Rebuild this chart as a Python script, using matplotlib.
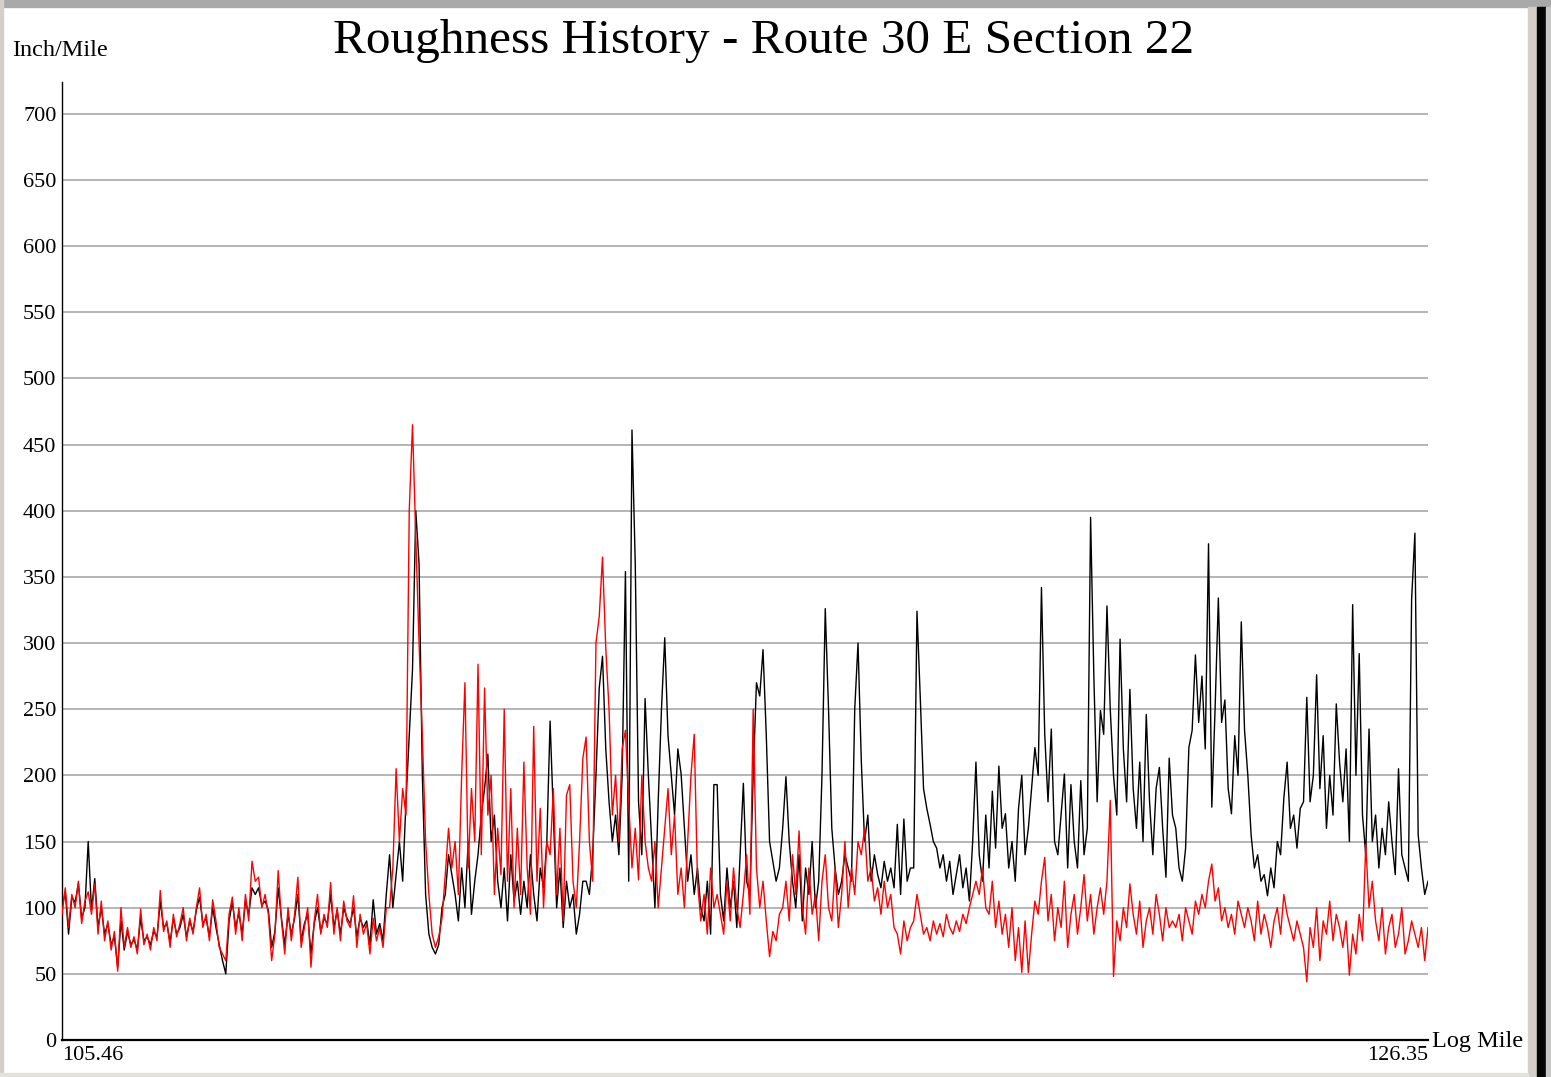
import numpy as np
import matplotlib
matplotlib.use("Agg")
import matplotlib.pyplot as plt
from matplotlib.patches import Rectangle

plt.rcParams["font.family"] = ["Liberation Serif", "DejaVu Serif"]

# log mile range of the section
start_mile = 105.46
end_mile = 126.35

# roughness readings (inch/mile), one value every ~0.05 mile
black_run = [
    100, 112, 80, 108, 104, 118, 92, 100, 150, 98, 122, 85, 100, 80, 88, 72, 78, 55, 90, 68,
    82, 72, 76, 68, 92, 75, 78, 72, 82, 78, 105, 85, 88, 74, 92, 80, 85, 95, 78, 90,
    82, 98, 108, 88, 92, 78, 100, 85, 72, 60, 50, 90, 104, 85, 96, 80, 105, 95, 115, 110,
    115, 102, 105, 98, 70, 82, 115, 92, 72, 95, 80, 92, 110, 75, 88, 95, 65, 88, 100, 82,
    92, 88, 110, 85, 98, 80, 100, 92, 88, 100, 78, 92, 85, 90, 72, 106, 80, 88, 75, 110,
    140, 100, 125, 150, 120, 180, 230, 280, 400, 360, 200, 110, 80, 70, 65, 72, 100, 110, 140, 125,
    110, 90, 130, 100, 150, 95, 120, 140, 170, 190, 216, 150, 170, 120, 100, 130, 90, 140, 105, 120,
    95, 120, 100, 140, 110, 90, 130, 115, 150, 241, 170, 100, 130, 85, 120, 100, 110, 80, 95, 120,
    120, 110, 140, 200, 266, 290, 220, 180, 150, 170, 140, 200, 354, 120, 461, 360, 180, 140, 258, 200,
    150, 100, 180, 250, 304, 230, 200, 170, 220, 201, 160, 120, 140, 110, 130, 100, 90, 120, 80, 193,
    193, 110, 90, 130, 100, 120, 85, 140, 194, 120, 110, 200, 270, 260, 295, 230, 150, 135, 120, 130,
    160, 199, 150, 120, 100, 140, 90, 130, 110, 150, 100, 120, 200, 326, 250, 160, 130, 110, 120, 140,
    130, 120, 250, 300, 211, 150, 170, 120, 140, 125, 115, 135, 120, 130, 115, 163, 110, 167, 120, 130,
    130, 324, 259, 190, 175, 163, 150, 145, 130, 140, 120, 135, 110, 125, 140, 115, 130, 105, 150, 210,
    140, 120, 170, 130, 188, 145, 207, 160, 171, 130, 150, 120, 175, 200, 140, 160, 191, 221, 200, 342,
    231, 180, 235, 150, 140, 170, 201, 130, 193, 150, 130, 196, 140, 160, 395, 274, 180, 249, 231, 328,
    250, 200, 170, 303, 220, 180, 265, 190, 160, 210, 150, 246, 180, 140, 190, 206, 160, 123, 213, 170,
    160, 130, 120, 145, 221, 234, 291, 240, 275, 220, 375, 176, 250, 334, 240, 257, 190, 171, 230, 200,
    316, 234, 200, 155, 130, 140, 120, 125, 109, 130, 115, 150, 140, 183, 210, 160, 170, 145, 175, 180,
    259, 180, 200, 276, 190, 230, 160, 200, 170, 254, 210, 180, 220, 150, 329, 200, 292, 170, 140, 235,
    150, 170, 130, 160, 140, 180, 150, 125, 205, 140, 130, 120, 333, 383, 155, 130, 110, 120,
]

red_run = [
    95, 115, 85, 110, 100, 120, 88, 105, 112, 95, 118, 80, 105, 75, 90, 68, 82, 52, 100, 70,
    85, 70, 78, 65, 99, 72, 80, 68, 85, 75, 113, 82, 90, 70, 95, 78, 88, 100, 75, 92,
    80, 100, 115, 85, 95, 75, 106, 90, 70, 65, 60, 95, 108, 80, 100, 75, 110, 90, 135, 120,
    123, 100, 110, 95, 60, 80, 128, 90, 65, 100, 75, 95, 123, 70, 85, 100, 55, 90, 110, 80,
    95, 85, 119, 80, 100, 75, 105, 90, 85, 109, 70, 95, 80, 88, 65, 92, 75, 85, 70, 100,
    100, 130, 205, 150, 190, 170, 400, 465, 380, 300, 230, 150, 110, 80, 70, 78, 92, 125, 160, 130,
    150, 110, 200, 270, 130, 190, 150, 284, 140, 266, 170, 200, 110, 160, 125, 250, 120, 190, 100, 160,
    110, 210, 130, 95, 237, 120, 175, 100, 150, 140, 190, 110, 160, 90, 185, 193, 120, 100, 150, 213,
    229, 150, 120, 300, 320, 365, 296, 250, 170, 200, 150, 220, 234, 180, 130, 160, 121, 200, 150, 130,
    120, 150, 100, 130, 160, 190, 140, 170, 110, 130, 100, 150, 200, 231, 120, 90, 110, 80, 130, 100,
    110, 95, 80, 120, 90, 130, 100, 85, 110, 140, 95, 250, 130, 100, 120, 90, 63, 82, 75, 95,
    100, 120, 90, 140, 110, 158, 100, 80, 130, 95, 110, 75, 120, 140, 100, 90, 130, 85, 110, 150,
    100, 130, 110, 150, 140, 160, 120, 130, 105, 115, 95, 120, 100, 110, 85, 80, 65, 90, 75, 85,
    90, 110, 95, 80, 85, 75, 90, 80, 88, 78, 95, 85, 80, 90, 82, 95, 88, 100, 110, 120,
    110, 130, 100, 95, 120, 85, 105, 80, 95, 70, 100, 60, 85, 51, 90, 51, 80, 105, 95, 120,
    138, 90, 110, 75, 100, 85, 120, 70, 95, 110, 80, 100, 125, 90, 110, 80, 100, 115, 95, 120,
    181, 48, 90, 75, 100, 85, 118, 95, 80, 105, 70, 90, 100, 80, 110, 95, 75, 100, 85, 90,
    85, 95, 75, 100, 90, 80, 105, 95, 110, 100, 120, 133, 105, 115, 90, 100, 85, 95, 80, 105,
    95, 85, 100, 90, 75, 105, 80, 95, 85, 70, 90, 100, 80, 110, 95, 85, 75, 90, 80, 70,
    44, 85, 70, 100, 60, 90, 80, 105, 75, 95, 85, 70, 90, 49, 80, 65, 95, 75, 148, 100,
    120, 90, 75, 100, 65, 85, 95, 70, 80, 100, 65, 75, 90, 80, 70, 85, 60, 85,
]

y_ticks = list(range(0, 701, 50))
title = "Roughness History - Route 30 E Section 22"

miles = np.linspace(start_mile, end_mile, len(black_run))

W, H = 1551, 1077
fig = plt.figure(figsize=(W / 100, H / 100), dpi=100)
fig.patch.set_facecolor("white")

# window chrome around the chart
fig.patches.append(Rectangle((0, 1 - 7 / H), 1, 7 / H, transform=fig.transFigure,
                             color="#a9a9a9", zorder=0))
fig.patches.append(Rectangle((0, 0), 3 / W, 1, transform=fig.transFigure,
                             color="#d4d0c8", zorder=0))
fig.patches.append(Rectangle((1528 / W, 0), 9 / W, 1 - 7 / H, transform=fig.transFigure,
                             color="#d4d0c8", zorder=0))
fig.patches.append(Rectangle((1537 / W, 0), 9 / W, 1 - 7 / H, transform=fig.transFigure,
                             color="#050505", zorder=0))
fig.patches.append(Rectangle((1546 / W, 0), 5 / W, 1 - 7 / H, transform=fig.transFigure,
                             color="#c8c8c8", zorder=0))
fig.patches.append(Rectangle((0, 0), 1528 / W, 4 / H, transform=fig.transFigure,
                             color="#e4e2dc", zorder=0))

ax = fig.add_axes([62 / W, (H - 1040) / H, (1428 - 62) / W, (1040 - 82) / H])
ax.set_facecolor("none")

ax.plot(miles, black_run, color="black", lw=1.0, zorder=3)
ax.plot(miles, red_run, color="#ff0000", lw=1.0, zorder=4)

ax.set_xlim(start_mile, end_mile)
ax.set_ylim(0, 724)
ax.set_yticks(y_ticks)
ax.set_yticklabels([str(v) for v in y_ticks])
ax.grid(axis="y", color="#a0a0a0", lw=1.1, zorder=1)
ax.tick_params(axis="y", length=0, pad=4, labelsize=16)

ax.set_xticks([start_mile, end_mile])
xl = ax.set_xticklabels([f"{start_mile:.2f}", f"{end_mile:.2f}"])
xl[0].set_horizontalalignment("left")
xl[1].set_horizontalalignment("right")
ax.tick_params(axis="x", length=0, pad=4, labelsize=16)

for s in ("top", "right"):
    ax.spines[s].set_visible(False)
ax.spines["left"].set_linewidth(1.0)
ax.spines["bottom"].set_linewidth(1.6)

fig.text(764 / W, 1 - 41 / H, title, ha="center", va="center", fontsize=35.5)
fig.text(12 / W, 1 - 50 / H, "Inch/Mile", ha="left", va="center", fontsize=17.5)
fig.text(1432 / W, 1 - 1041 / H, "Log Mile", ha="left", va="center", fontsize=17.5)

fig.savefig("out.png", dpi=100)
